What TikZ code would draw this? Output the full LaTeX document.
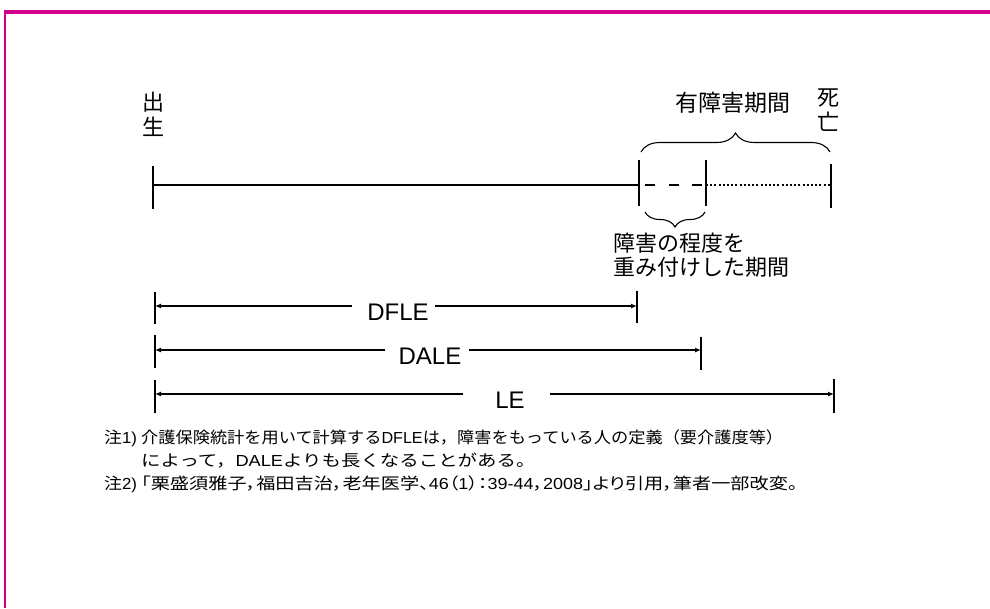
\documentclass[tikz,border=0pt]{standalone}
\usepackage{fontspec}
\usepackage{graphicx}
\setmainfont{Liberation Sans}
\newfontfamily\jp{Noto Sans CJK JP}
\newfontfamily\jpw[FakeStretch=1.12,RawFeature=+palt]{Noto Sans CJK JP}
\newfontfamily\jpf[FakeStretch=1.12]{Noto Sans CJK JP}
\newfontfamily\latw[FakeStretch=1.05]{Liberation Sans}
\newcommand{\lt}[1]{{\latw #1}}
\usetikzlibrary{arrows.meta,decorations.pathreplacing}
\definecolor{framecol}{RGB}{212,0,140}
\tikzset{
  mainline/.style={line width=2.8pt, line cap=butt},
  tickline/.style={line width=2.8pt},
  spanarrow/.style={line width=1.2pt, -{Latex[length=6pt,width=5pt]}},
  spantick/.style={line width=1.2pt},
  bracestyle/.style={line width=1.1pt, decorate},
  jlabel/.style={font=\jp\fontsize{22}{25}\selectfont, inner sep=0pt, align=center},
  jtext/.style={font=\jp\fontsize{22}{24}\selectfont, inner sep=0pt, align=left},
  elabel/.style={font=\fontsize{24}{24}\selectfont, inner sep=0pt},
  note/.style={font=\jpf\fontsize{16}{16}\selectfont, inner sep=0pt},
  notep/.style={font=\jpw\fontsize{16}{16}\selectfont, inner sep=0pt}
}
\begin{document}
\begin{tikzpicture}[x=1pt,y=-1pt]
\useasboundingbox (0,0) rectangle (990,608);
\fill[white] (0,0) rectangle (990,608);
% frame
\draw[framecol, line width=4pt] (4,12) -- (990,12);
\draw[framecol, line width=2pt] (5,10) -- (5,608);

% timeline coordinates
\coordinate (b0) at (153,185);
\coordinate (bt) at (153,166); \coordinate (bb) at (153,209);
\coordinate (p1) at (639,185);
\coordinate (p1t) at (639,160); \coordinate (p1b) at (639,206);
\coordinate (p2) at (706,185);
\coordinate (p2t) at (706,160); \coordinate (p2b) at (706,206);
\coordinate (p3) at (831,185);
\coordinate (p3t) at (831,164); \coordinate (p3b) at (831,208);
\coordinate (d1) at (645,185); \coordinate (d2) at (702,185);

\draw[mainline] (b0) -- (p1);
\draw[line width=2.6pt, dash pattern=on 10pt off 13.5pt] (d1) -- (d2);
\draw[line width=2.2pt, dash pattern=on 2pt off 2.2pt] (p2) -- (p3);
\draw[tickline] (bt) -- (bb);
\draw[tickline] (p1t) -- (p1b);
\draw[tickline] (p2t) -- (p2b);
\draw[tickline] (p3t) -- (p3b);

% labels
\node[jlabel] (birth) at (153,114) {出\\生};
\node[jlabel] (death) at (828,110) {死\\亡};
\node[jlabel, font=\jp\fontsize{23}{25}\selectfont] (dis) at (733,103) {有障害期間};

% braces
\coordinate (ub1) at (641,152); \coordinate (ub2) at (830,152);
\draw[bracestyle, decoration={brace, amplitude=19pt, aspect=0.5}] (ub1) -- (ub2);
\coordinate (lb1) at (705,212); \coordinate (lb2) at (645,212);
\draw[bracestyle, decoration={brace, amplitude=15pt, aspect=0.5}] (lb1) -- (lb2);

\node[jtext, anchor=north west] (weight) at (613,233) {障害の程度を\\重み付けした期間};

% DFLE
\coordinate (fl) at (155,306); \coordinate (fr) at (637,306);
\coordinate (flt) at (155,292); \coordinate (flb) at (155,324);
\coordinate (frt) at (637,291); \coordinate (frb) at (637,323);
\node[elabel] (dfle) at (398,312) {DFLE};
\coordinate (fg1) at (352,306); \coordinate (fg2) at (435,306);
\draw[spantick] (flt) -- (flb);
\draw[spantick] (frt) -- (frb);
\draw[spanarrow] (fg1) -- (fl);
\draw[spanarrow] (fg2) -- (fr);

% DALE
\coordinate (al) at (155,350); \coordinate (ar) at (701,350);
\coordinate (alt) at (155,335); \coordinate (alb) at (155,368);
\coordinate (art) at (701,337); \coordinate (arb) at (701,370);
\node[elabel] (dale) at (430,356) {DALE};
\coordinate (ag1) at (385,350); \coordinate (ag2) at (469,350);
\draw[spantick] (alt) -- (alb);
\draw[spantick] (art) -- (arb);
\draw[spanarrow] (ag1) -- (al);
\draw[spanarrow] (ag2) -- (ar);

% LE
\coordinate (ll) at (155,394); \coordinate (lr) at (834,394);
\coordinate (llt) at (155,380); \coordinate (llb) at (155,413);
\coordinate (lrt) at (834,379); \coordinate (lrb) at (834,413);
\node[elabel] (le) at (510,400) {LE};
\coordinate (lg1) at (463,394); \coordinate (lg2) at (550,394);
\draw[spantick] (llt) -- (llb);
\draw[spantick] (lrt) -- (lrb);
\draw[spanarrow] (lg1) -- (ll);
\draw[spanarrow] (lg2) -- (lr);

% notes
\node[note, anchor=base west] (n1h) at (104,443) {注\lt{1)}};
\node[note, anchor=base west] (n1a) at (141,443) {\scalebox{0.96}[1]{介護保険統計を用いて計算する\lt{DFLE}は，障害をもっている人の定義（要介護度等）}};
\node[note, anchor=base west] (n1b) at (141,466) {\scalebox{1.085}[1]{によって，\lt{DALE}よりも長くなることがある。}};
\node[notep, anchor=base west] (n2h) at (104,489) {注\lt{2)}};
\node[notep, anchor=base west] (n2) at (141,489) {\scalebox{1.07}[1]{「栗盛須雅子，福田吉治，老年医学、\lt{46}（\lt{1}）：\lt{39-44}，\lt{2008}」より引用，筆者一部改変。}};
\end{tikzpicture}
\end{document}
